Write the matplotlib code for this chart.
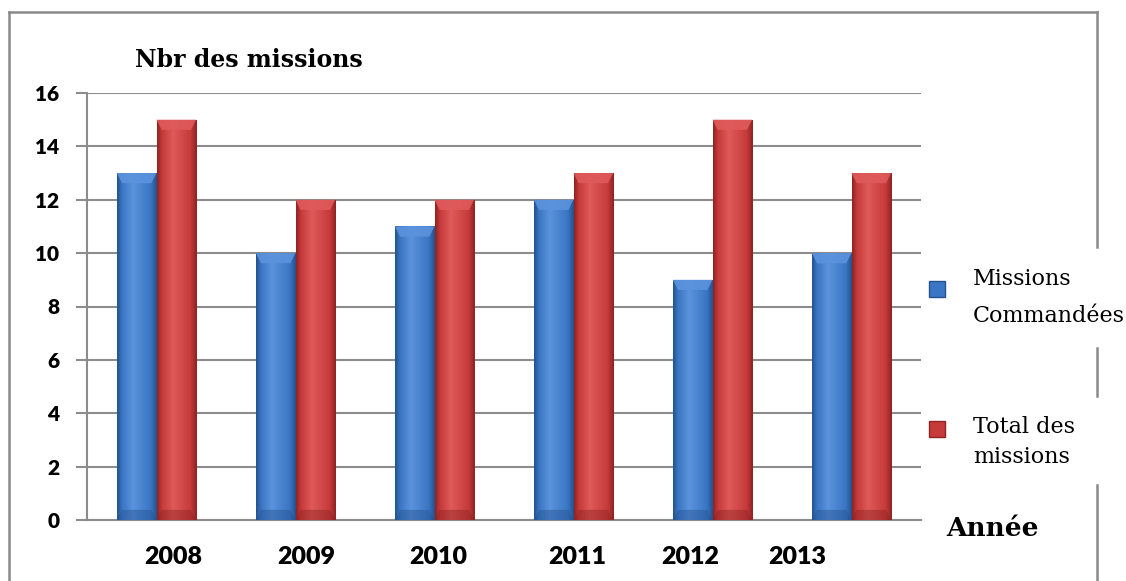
import numpy as np
import matplotlib
matplotlib.use('Agg')
from matplotlib import pyplot as plt
from matplotlib.patches import Polygon, Rectangle
from matplotlib.lines import Line2D
from matplotlib.colors import LinearSegmentedColormap

years = ['2008', '2009', '2010', '2011', '2012', '2013']
missions_commandees = [13, 10, 11, 12, 9, 10]
total_missions = [15, 12, 12, 13, 15, 13]
# year labels are not centred under their groups
label_offsets = [0.12, 0.08, 0.03, 0.03, -0.16, -0.39]

W, H = 1126, 581
GRID = '#8c8c8c'
BLUE = ('#24528f', '#3a76c4', '#5b93dc')
RED = ('#8f2323', '#c63a3a', '#df5a5a')


def px(x, y):
    # pixel position (from top-left) to figure fraction
    return x / W, 1 - y / H


def shaded_bars(ax, xs, heights, width, shades):
    dark, mid, light = shades
    cmap = LinearSegmentedColormap.from_list(
        'cyl', [(0, dark), (0.12, mid), (0.4, light), (0.85, mid), (1, dark)])
    grad = np.linspace(0, 1, 64).reshape(1, -1)
    bars = ax.bar(xs, heights, width, color=mid, zorder=3, linewidth=0)
    for p in bars:
        x0, w, h = p.get_x(), p.get_width(), p.get_height()
        im = ax.imshow(grad, extent=[x0, x0 + w, 0, h], aspect='auto',
                       cmap=cmap, zorder=3.1, interpolation='bicubic')
        im.set_clip_path(p)
        dx, dy = w * 0.13, 0.38
        ax.add_patch(Polygon([(x0, h), (x0 + w, h), (x0 + w - dx, h - dy), (x0 + dx, h - dy)],
                             closed=True, facecolor=light, alpha=0.9, lw=0, zorder=3.2))
        ax.add_patch(Polygon([(x0, 0), (x0 + w, 0), (x0 + w - dx, dy), (x0 + dx, dy)],
                             closed=True, facecolor=dark, alpha=0.45, lw=0, zorder=3.2))
    return bars


fig = plt.figure(figsize=(W / 100, H / 100), dpi=100)
l, b = px(87, 520)
r, t = px(921, 93)
ax = fig.add_axes([l, b, r - l, t - b])

x = np.arange(len(years))
bw = 0.285
shaded_bars(ax, x - bw / 2, missions_commandees, bw, BLUE)
shaded_bars(ax, x + bw / 2, total_missions, bw, RED)

ax.set_xlim(-0.5, len(years) - 0.5)
ax.set_ylim(0, 16)
ax.set_yticks(range(0, 17, 2))
ax.yaxis.grid(True, color=GRID, lw=1.5, zorder=1)
ax.set_axisbelow(True)
for s in ['top', 'right']:
    ax.spines[s].set_visible(False)
for s in ['left', 'bottom']:
    ax.spines[s].set_color(GRID)
    ax.spines[s].set_linewidth(1.5)
ax.tick_params(axis='y', direction='out', length=8, width=1.5, color=GRID, pad=12)
ax.tick_params(axis='x', length=0, pad=19)
ax.set_xticks(x + np.array(label_offsets))
ax.set_xticklabels(years)
for lab in ax.get_yticklabels():
    lab.set_fontfamily('Lato')
    lab.set_fontweight('heavy')
    lab.set_fontsize(15)
for lab in ax.get_xticklabels():
    lab.set_fontfamily('Lato')
    lab.set_fontweight('heavy')
    lab.set_fontsize(18)

fig.text(*px(249, 60), 'Nbr des missions', family='DejaVu Serif', weight='bold',
         fontsize=17, ha='center', va='center')
fig.text(*px(992, 528), 'Année', family='DejaVu Serif', weight='bold',
         fontsize=19, ha='center', va='center')

# legend
for (cy, shades) in [(289, BLUE), (429, RED)]:
    x0, y0 = px(929, cy + 8)
    fig.patches.append(Rectangle((x0, y0), 16 / W, 16 / H, transform=fig.transFigure,
                                 facecolor=shades[1], edgecolor=shades[0], lw=1))
for txt, by in [('Missions', 285), ('Commandées', 322), ('Total des', 433), ('missions', 463)]:
    fig.text(*px(973, by), txt, family='DejaVu Serif', fontsize=16, ha='left', va='baseline')

# outer frame, broken on the right where the legend text sits
frame = [[(9, 12), (1097, 12)], [(9, 12), (9, 581)],
         [(1097, 12), (1097, 247)], [(1097, 348), (1097, 396)], [(1097, 485), (1097, 581)]]
for (xa, ya), (xb, yb) in frame:
    pa, pb = px(xa, ya), px(xb, yb)
    fig.lines.append(Line2D([pa[0], pb[0]], [pa[1], pb[1]], transform=fig.transFigure,
                            color='#8a8a8a', lw=1.8))

fig.savefig('out.png', dpi=100)
